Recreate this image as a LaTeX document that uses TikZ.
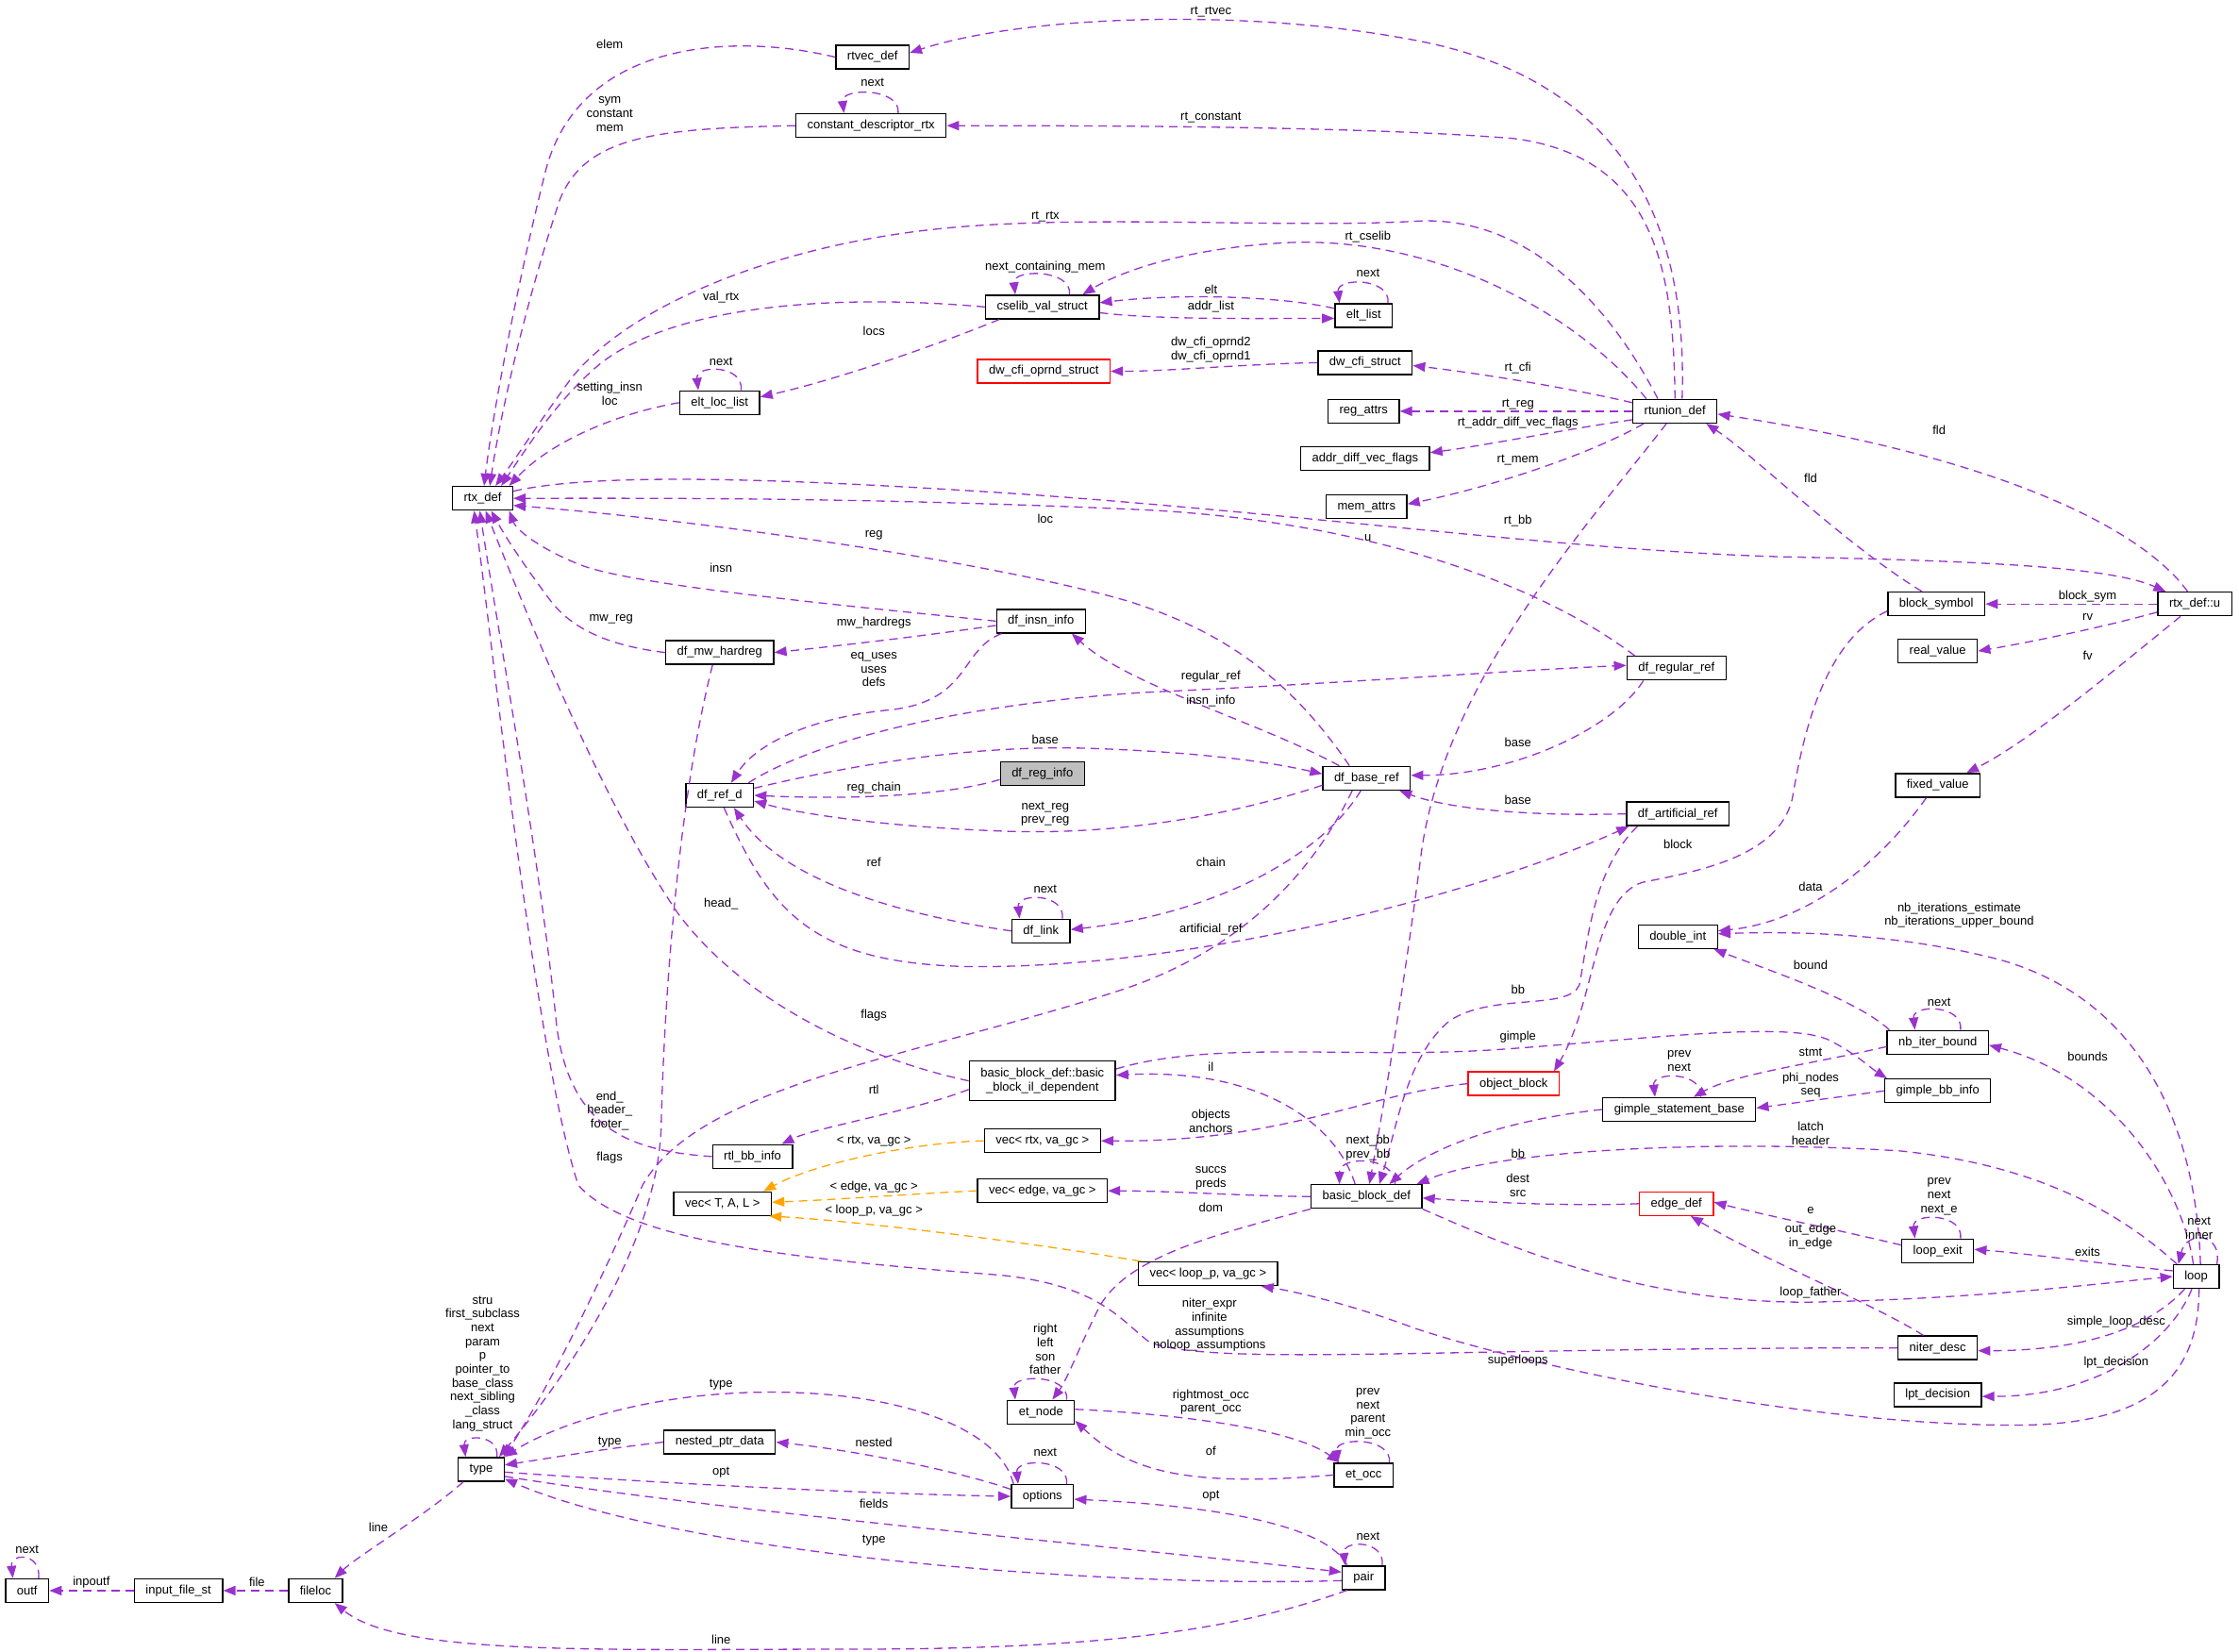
\documentclass[tikz,border=0pt]{standalone}
\usepackage{fontspec}
\setmainfont{Liberation Sans}
\usetikzlibrary{arrows.meta,calc}

\definecolor{usecol}{HTML}{9A32CD}
\definecolor{tplcol}{HTML}{FFA500}
\definecolor{rootgray}{HTML}{BFBFBF}

\tikzset{
  cls/.style={draw=black, fill=white, line width=1.4pt, rectangle, inner xsep=12pt, inner ysep=2pt,
    minimum height=25pt, font=\fontsize{13}{14.7}\selectfont, align=center},
  redcls/.style={cls, draw=red},
  uses/.style={draw=usecol, line width=1.3pt, dash pattern=on 9pt off 6pt, -{Triangle[length=13pt,width=10pt]}},
  tmpl/.style={uses, draw=tplcol},
  lbl/.style={font=\fontsize{13}{14.7}\selectfont, align=center, inner sep=0pt},
}

\begin{document}
\begin{tikzpicture}[x=1.5134pt, y=-1.5134pt]
    \fill[white] (0,0) rectangle (1568,1157);
    \useasboundingbox (0,0) rectangle (1568,1157);

    % Classes
    \node[cls] (rtvec) at (611,40) {rtvec\_def};
    \node[cls] (cdrtx) at (610,88) {constant\_descriptor\_rtx};
    \node[cls] (cselib) at (730,215) {cselib\_val\_struct};
    \node[cls] (eltlist) at (955,221) {elt\_list};
    \node[redcls] (dwopnd) at (731,260) {dw\_cfi\_oprnd\_struct};
    \node[cls] (dwcfi) at (956,254) {dw\_cfi\_struct};
    \node[cls] (regattrs) at (955,288) {reg\_attrs};
    \node[cls] (rtunion) at (1173,288) {rtunion\_def};
    \node[cls] (addrdiff) at (956,321) {addr\_diff\_vec\_flags};
    \node[cls] (memattrs) at (957,355) {mem\_attrs};
    \node[cls] (eltloc) at (504,282) {elt\_loc\_list};
    \node[cls] (rtx) at (338,349) {rtx\_def};
    \node[cls] (insninfo) at (729,435) {df\_insn\_info};
    \node[cls] (mwhard) at (504,457) {df\_mw\_hardreg};
    \node[cls] (regref) at (1174,468) {df\_regular\_ref};
    \node[cls] (blocksym) at (1356,423) {block\_symbol};
    \node[cls] (rtxu) at (1537,423) {rtx\_def::u};
    \node[cls] (realval) at (1357,456) {real\_value};
    \node[cls] (fixedval) at (1357,550) {fixed\_value};
    \node[cls, fill=rootgray] (reginfo) at (730,542) {df\_reg\_info};
    \node[cls] (refd) at (504,557) {df\_ref\_d};
    \node[cls] (baseref) at (957,545) {df\_base\_ref};
    \node[cls] (artref) at (1175,570) {df\_artificial\_ref};
    \node[cls] (dflink) at (729,652) {df\_link};
    \node[cls] (dblint) at (1175,656) {double\_int};
    \node[cls] (nbiter) at (1357,730) {nb\_iter\_bound};
    \node[cls, minimum height=42pt] (ildep) at (730,757) {basic\_block\_def::basic\\\_block\_il\_dependent};
    \node[redcls] (objblock) at (1060,759) {object\_block};
    \node[cls] (gbbinfo) at (1357,764) {gimple\_bb\_info};
    \node[cls] (gstmt) at (1176,777) {gimple\_statement\_base};
    \node[cls] (rtlbb) at (527,810) {rtl\_bb\_info};
    \node[cls] (vecrtx) at (730,799) {vec< rtx, va\_gc >};
    \node[cls] (vecT) at (506,843) {vec< T, A, L >};
    \node[cls] (vecedge) at (730,834) {vec< edge, va\_gc >};
    \node[cls] (bbdef) at (957,838) {basic\_block\_def};
    \node[redcls] (edgedef) at (1174,843) {edge\_def};
    \node[cls] (loopexit) at (1357,876) {loop\_exit};
    \node[cls] (loop) at (1538,894) {loop};
    \node[cls] (vecloop) at (846,892) {vec< loop\_p, va\_gc >};
    \node[cls] (niter) at (1357,944) {niter\_desc};
    \node[cls] (lpt) at (1357,977) {lpt\_decision};
    \node[cls] (etnode) at (729,989) {et\_node};
    \node[cls] (etocc) at (955,1033) {et\_occ};
    \node[cls] (type) at (337,1029) {type};
    \node[cls] (nested) at (504,1010) {nested\_ptr\_data};
    \node[cls] (options) at (730,1048) {options};
    \node[cls] (pair) at (955,1105) {pair};
    \node[cls] (outf) at (19,1114) {outf};
    \node[cls] (inputfile) at (125,1114) {input\_file\_st};
    \node[cls] (fileloc) at (221,1114) {fileloc};

    % Into rtx_def
    \draw[uses] (rtvec.west) .. controls (510,22) and (405,30) .. (382,120) .. controls (362,200) and (345,290) .. ($(rtx.north)+(1,0)$);
    \draw[uses] (cdrtx.west) .. controls (460,90) and (410,95) .. (392,140) .. controls (372,200) and (352,280) .. ($(rtx.north)+(5,0)$);
    \draw[uses] ($(rtunion.north)+(-12,0)$) .. controls (1120,200) and (1060,150) .. (990,155) .. controls (900,160) and (760,150) .. (660,160) .. controls (540,172) and (440,215) .. (400,265) .. controls (378,295) and (362,320) .. ($(rtx.north)+(9,0)$);
    \draw[uses] (cselib.west) .. controls (580,205) and (470,215) .. (420,255) .. controls (390,280) and (368,315) .. ($(rtx.north)+(13,0)$);
    \draw[uses] (eltloc.west) .. controls (430,290) and (385,310) .. ($(rtx.north east)+(-3,0)$);
    \draw[uses] ($(regref.north west)+(6,0)$) .. controls (1080,410) and (960,365) .. (800,357) .. controls (600,348) and (450,349) .. (rtx.east);
    \draw[uses] ($(baseref.north)+(-12,0)$) .. controls (900,470) and (850,440) .. (790,421) .. controls (700,395) and (500,365) .. ($(rtx.east)+(0,5)$);
    \draw[uses] (insninfo.west) .. controls (600,425) and (440,410) .. (405,395) .. controls (380,385) and (362,372) .. ($(rtx.south east)+(-3,0)$);
    \draw[uses] (mwhard.west) .. controls (425,452) and (400,440) .. (385,420) .. controls (370,400) and (355,378) .. ($(rtx.south)+(6,0)$);
    \draw[uses] (ildep.west) .. controls (600,740) and (520,700) .. (475,640) .. controls (420,560) and (365,420) .. ($(rtx.south)+(2,0)$);
    \draw[uses] (rtlbb.west) .. controls (440,806) and (400,790) .. (390,720) .. controls (378,600) and (350,450) .. ($(rtx.south)+(-2,0)$);
    \draw[uses] (niter.west) .. controls (1000,944) and (850,957) .. (805,940) .. controls (785,925) and (770,900) .. (700,893) .. controls (560,882) and (440,870) .. (405,830) .. controls (375,740) and (345,450) .. ($(rtx.south)+(-6,0)$);
    \draw[uses] ($(rtx.east)+(0,-5)$) .. controls (420,330) and (560,336) .. (700,345) .. controls (900,358) and (1100,386) .. (1250,390) .. controls (1400,393) and (1480,398) .. ($(rtxu.north west)+(6,0)$);

    % rtunion_def
    \draw[uses] ($(rtunion.north)+(5,0)$) .. controls (1182,160) and (1140,60) .. (1000,30) .. controls (880,5) and (720,10) .. ($(rtvec.east)+(0,-3)$);
    \draw[uses] (rtunion.north) .. controls (1172,190) and (1160,110) .. (1060,97) .. controls (950,88) and (750,88) .. (cdrtx.east);
    \draw[uses] ($(rtunion.north)+(-20,0)$) .. controls (1100,215) and (1000,165) .. (900,170) .. controls (830,174) and (785,190) .. ($(cselib.north east)+(-12,0)$);
    \draw[uses] ($(rtunion.west)+(0,-6)$) .. controls (1100,272) and (1040,262) .. ($(dwcfi.east)+(0,2)$);
    \draw[uses] (rtunion.west) -- (regattrs.east);
    \draw[uses] ($(rtunion.west)+(0,6)$) .. controls (1100,300) and (1040,312) .. ($(addrdiff.east)+(0,-4)$);
    \draw[uses] ($(rtunion.south west)+(8,0)$) .. controls (1110,320) and (1040,342) .. ($(memattrs.east)+(0,-2)$);
    \draw[uses] ($(rtunion.south)+(-6,0)$) .. controls (1110,370) and (1010,480) .. (995,600) .. controls (982,700) and (968,780) .. ($(bbdef.north)+(2,0)$);
    \draw[uses] ($(rtxu.north)+(-5,0)$) .. controls (1500,370) and (1400,320) .. ($(rtunion.east)+(0,2)$);
    \draw[uses] ($(blocksym.north)+(-10,0)$) .. controls (1290,380) and (1230,320) .. ($(rtunion.south east)+(-8,0)$);

    % cselib and lists
    \draw[uses] ($(eltlist.west)+(0,-5)$) .. controls (900,208) and (830,205) .. ($(cselib.east)+(0,-3)$);
    \draw[uses] ($(cselib.east)+(0,4)$) .. controls (810,224) and (880,223) .. ($(eltlist.west)+(0,2)$);
    \draw[uses] ($(cselib.south west)+(10,0)$) .. controls (660,240) and (590,265) .. ($(eltloc.east)+(0,-4)$);
    \draw[uses] (dwcfi.west) .. controls (870,255) and (820,260) .. (dwopnd.east);

    % Self loops
    \draw[uses] ($(cdrtx.north)+(19,0)$) .. controls ($(cdrtx.north)+(21,-18)$) and ($(cdrtx.north)+(-21,-18)$) .. ($(cdrtx.north)+(-19,0)$);
    \draw[uses] ($(cselib.north)+(19,0)$) .. controls ($(cselib.north)+(21,-18)$) and ($(cselib.north)+(-21,-18)$) .. ($(cselib.north)+(-19,0)$);
    \draw[uses] ($(eltlist.north)+(17,0)$) .. controls ($(eltlist.north)+(19,-18)$) and ($(eltlist.north)+(-19,-18)$) .. ($(eltlist.north)+(-17,0)$);
    \draw[uses] ($(eltloc.north)+(15,0)$) .. controls ($(eltloc.north)+(17,-18)$) and ($(eltloc.north)+(-17,-18)$) .. ($(eltloc.north)+(-15,0)$);
    \draw[uses] ($(dflink.north)+(15,0)$) .. controls ($(dflink.north)+(17,-18)$) and ($(dflink.north)+(-17,-18)$) .. ($(dflink.north)+(-15,0)$);
    \draw[uses] ($(nbiter.north)+(16,0)$) .. controls ($(nbiter.north)+(18,-18)$) and ($(nbiter.north)+(-18,-18)$) .. ($(nbiter.north)+(-16,0)$);
    \draw[uses] ($(gstmt.north)+(15,0)$) .. controls ($(gstmt.north)+(17,-18)$) and ($(gstmt.north)+(-19,-18)$) .. ($(gstmt.north)+(-17,0)$);
    \draw[uses] ($(loopexit.north)+(16,0)$) .. controls ($(loopexit.north)+(18,-18)$) and ($(loopexit.north)+(-18,-18)$) .. ($(loopexit.north)+(-16,0)$);
    \draw[uses] ($(etnode.north)+(18,0)$) .. controls ($(etnode.north)+(20,-18)$) and ($(etnode.north)+(-20,-18)$) .. ($(etnode.north)+(-18,0)$);
    \draw[uses] ($(etocc.north)+(18,0)$) .. controls ($(etocc.north)+(20,-18)$) and ($(etocc.north)+(-20,-18)$) .. ($(etocc.north)+(-18,0)$);
    \draw[uses] ($(options.north)+(17,0)$) .. controls ($(options.north)+(19,-18)$) and ($(options.north)+(-19,-18)$) .. ($(options.north)+(-17,0)$);
    \draw[uses] ($(pair.north)+(13,0)$) .. controls ($(pair.north)+(15,-18)$) and ($(pair.north)+(-15,-18)$) .. ($(pair.north)+(-13,0)$);
    \draw[uses] ($(type.north)+(11,0)$) .. controls ($(type.north)+(13,-16)$) and ($(type.north)+(-13,-16)$) .. ($(type.north)+(-11,0)$);
    \draw[uses] ($(outf.north)+(8,0)$) .. controls ($(outf.north)+(10,-18)$) and ($(outf.north)+(-12,-18)$) .. ($(outf.north)+(-10,0)$);
    \draw[uses] ($(bbdef.north)+(20,0)$) .. controls ($(bbdef.north)+(20,-20)$) and ($(bbdef.north)+(-19,-20)$) .. ($(bbdef.north)+(-19,0)$);
    \draw[uses] ($(loop.north east)+(-2,0)$) .. controls ($(loop.north east)+(2,-22)$) and ($(loop.north west)+(10,-24)$) .. ($(loop.north west)+(4,0)$);

    % df structures
    \draw[uses] ($(insninfo.west)+(0,3)$) .. controls (650,445) and (590,452) .. (mwhard.east);
    \draw[uses] ($(insninfo.south west)+(4,0)$) .. controls (672,455) and (680,490) .. (625,497) .. controls (570,502) and (530,520) .. ($(refd.north)+(8,0)$);
    \draw[uses] ($(refd.north east)+(-4,0)$) .. controls (560,525) and (650,495) .. (800,485) .. controls (950,478) and (1050,470) .. ($(regref.west)+(0,-2)$);
    \draw[uses] ($(baseref.north west)+(12,0)$) .. controls (880,505) and (790,480) .. ($(insninfo.south east)+(-10,0)$);
    \draw[uses] ($(refd.east)+(0,-5)$) .. controls (600,535) and (680,522) .. (760,524) .. controls (850,527) and (895,535) .. ($(baseref.west)+(0,-3)$);
    \draw[uses] ($(regref.south west)+(12,0)$) .. controls (1130,510) and (1060,543) .. ($(baseref.east)+(0,-2)$);
    \draw[uses] (artref.west) .. controls (1060,572) and (1010,565) .. ($(baseref.south east)+(-8,0)$);
    \draw[uses] ($(reginfo.west)+(0,4)$) .. controls (660,558) and (590,560) .. (refd.east);
    \draw[uses] ($(baseref.west)+(0,5)$) .. controls (850,575) and (770,585) .. (700,582) .. controls (620,579) and (560,570) .. ($(refd.east)+(0,4)$);
    \draw[uses] (dflink.west) .. controls (640,642) and (550,620) .. ($(refd.south)+(10,0)$);
    \draw[uses] ($(baseref.south)+(-4,0)$) .. controls (925,600) and (850,640) .. ($(dflink.east)+(0,-1)$);
    \draw[uses] ($(refd.south)+(3,0)$) .. controls (540,640) and (570,675) .. (680,677) .. controls (850,678) and (1050,620) .. ($(artref.south west)+(2,0)$);
    \draw[uses] ($(mwhard.south)+(-5,0)$) .. controls (475,560) and (465,700) .. (463,790) .. controls (460,870) and (400,960) .. ($(type.north east)+(-4,0)$);
    \draw[uses] ($(baseref.south)+(-10,0)$) .. controls (915,620) and (860,670) .. (780,695) .. controls (640,740) and (490,760) .. (450,830) .. controls (420,900) and (380,980) .. ($(type.north east)+(-1,0)$);

    % Basic blocks
    \draw[uses] ($(ildep.west)+(0,6)$) .. controls (640,778) and (570,790) .. ($(rtlbb.north east)+(-8,0)$);
    \draw[uses] ($(ildep.north east)+(0,6)$) .. controls (850,728) and (950,742) .. (1050,735) .. controls (1150,728) and (1250,715) .. (1280,728) .. controls (1300,738) and (1310,748) .. ($(gbbinfo.north west)+(2,0)$);
    \draw[uses] ($(bbdef.north)+(-8,0)$) .. controls (935,785) and (880,748) .. ($(ildep.east)+(0,-4)$);
    \draw[uses] ($(artref.south west)+(8,0)$) .. controls (1115,610) and (1112,660) .. (1106,690) .. controls (1098,708) and (1045,695) .. (1015,715) .. controls (985,740) and (978,790) .. ($(bbdef.north)+(9,0)$);
    \draw[uses] ($(blocksym.west)+(0,5)$) .. controls (1275,450) and (1262,520) .. (1255,560) .. controls (1245,600) and (1190,610) .. (1150,618) .. controls (1115,630) and (1118,700) .. ($(objblock.north east)+(-4,0)$);
    \draw[uses] (objblock.west) .. controls (960,765) and (900,800) .. (vecrtx.east);
    \draw[tmpl] (vecrtx.west) .. controls (640,800) and (570,815) .. ($(vecT.north east)+(-6,0)$);
    \draw[tmpl] (vecedge.west) .. controls (640,836) and (590,840) .. ($(vecT.east)+(0,-1)$);
    \draw[tmpl] ($(vecloop.north west)+(2,0)$) .. controls (720,870) and (600,855) .. ($(vecT.south east)+(-2,0)$);
    \draw[uses] (bbdef.west) .. controls (880,838) and (820,834) .. (vecedge.east);
    \draw[uses] (bbdef.south west) .. controls (850,865) and (790,880) .. (770,915) .. controls (755,945) and (748,965) .. ($(etnode.north)+(8,0)$);
    \draw[uses] (gstmt.west) .. controls (1050,785) and (1000,805) .. ($(bbdef.north)+(16,0)$);
    \draw[uses] (edgedef.west) .. controls (1100,845) and (1040,842) .. ($(bbdef.east)+(0,1)$);
    \draw[uses] ($(loop.north west)+(3,0)$) .. controls (1480,845) and (1420,815) .. (1330,806) .. controls (1200,798) and (1050,805) .. ($(bbdef.north east)+(-4,0)$);
    \draw[uses] (bbdef.south east) .. controls (1060,875) and (1150,912) .. (1265,912) .. controls (1380,910) and (1460,900) .. (loop.west);

    % Loops
    \draw[uses] ($(loopexit.west)+(0,-4)$) .. controls (1290,862) and (1240,852) .. ($(edgedef.east)+(0,-1)$);
    \draw[uses] ($(loop.west)+(0,-4)$) .. controls (1480,886) and (1420,878) .. ($(loopexit.east)+(0,-1)$);
    \draw[uses] ($(niter.north)+(-10,0)$) .. controls (1310,912) and (1240,885) .. ($(edgedef.south)+(10,0)$);
    \draw[uses] ($(loop.south)+(-8,0)$) .. controls (1505,930) and (1460,946) .. ($(niter.east)+(0,2)$);
    \draw[uses] ($(loop.south)+(-3,0)$) .. controls (1520,940) and (1470,978) .. ($(lpt.east)+(0,1)$);
    \draw[uses] ($(loop.south)+(2,0)$) .. controls (1540,960) and (1510,996) .. (1420,998) .. controls (1280,1000) and (1080,960) .. (990,930) .. controls (950,915) and (910,905) .. ($(vecloop.south east)+(-12,0)$);
    \draw[uses] ($(loop.north)+(-2,0)$) .. controls (1528,830) and (1480,755) .. ($(nbiter.east)+(0,2)$);
    \draw[uses] ($(loop.north)+(3,0)$) .. controls (1538,790) and (1500,700) .. (1400,672) .. controls (1330,654) and (1260,652) .. ($(dblint.east)+(0,-2)$);
    \draw[uses] ($(nbiter.north west)+(2,0)$) .. controls (1300,700) and (1240,680) .. ($(dblint.south east)+(-3,0)$);
    \draw[uses] ($(nbiter.west)+(0,3)$) .. controls (1270,745) and (1215,752) .. ($(gstmt.north)+(10,0)$);
    \draw[uses] (gbbinfo.west) .. controls (1290,768) and (1260,772) .. ($(gstmt.east)+(0,-1)$);
    \draw[uses] ($(fixedval.south)+(-8,0)$) .. controls (1320,600) and (1270,645) .. ($(dblint.east)+(0,-4)$);
    \draw[uses] (rtxu.west) -- (blocksym.east);
    \draw[uses] ($(rtxu.south west)+(0,-3)$) .. controls (1470,440) and (1420,450) .. (realval.east);
    \draw[uses] ($(rtxu.south)+(-10,0)$) .. controls (1480,470) and (1420,520) .. ($(fixedval.north east)+(-10,0)$);

    % Types
    \draw[uses] ($(options.north west)+(2,0)$) .. controls (700,1000) and (630,975) .. (540,975) .. controls (450,975) and (385,1000) .. (type.north east);
    \draw[uses] (nested.west) .. controls (420,1015) and (380,1022) .. ($(type.east)+(0,-3)$);
    \draw[uses] ($(options.west)+(0,-5)$) .. controls (670,1030) and (600,1016) .. (nested.east);
    \draw[uses] ($(type.east)+(0,2)$) .. controls (450,1038) and (600,1046) .. (options.west);
    \draw[uses] ($(type.east)+(0,5)$) .. controls (500,1058) and (800,1085) .. ($(pair.west)+(0,-4)$);
    \draw[uses] ($(pair.west)+(0,2)$) .. controls (780,1112) and (480,1090) .. ($(type.south east)+(0,-2)$);
    \draw[uses] ($(pair.north west)+(4,0)$) .. controls (930,1070) and (860,1055) .. ($(options.east)+(0,2)$);
    \draw[uses] ($(pair.south west)+(4,0)$) .. controls (870,1140) and (780,1155) .. (600,1155) .. controls (420,1155) and (280,1160) .. ($(fileloc.south east)+(-6,0)$);
    \draw[uses] ($(type.south west)+(4,0)$) .. controls (300,1060) and (250,1090) .. ($(fileloc.north east)+(-6,0)$);
    \draw[uses] (fileloc.west) -- (inputfile.east);
    \draw[uses] (inputfile.west) -- (outf.east);
    \draw[uses] ($(etnode.east)+(0,-2)$) .. controls (820,990) and (905,1000) .. ($(etocc.north west)+(4,0)$);
    \draw[uses] (etocc.west) .. controls (830,1042) and (790,1030) .. ($(etnode.east)+(0,6)$);

    % Labels
    \node[lbl] (l-elem) at (427,31) {elem};
    \node[lbl] (l-symc) at (427,80) {sym\\constant\\mem};
    \node[lbl] (l-cdnext) at (611,58) {next};
    \node[lbl] (l-rtvec) at (848,8) {rt\_rtvec};
    \node[lbl] (l-rtconst) at (848,82) {rt\_constant};
    \node[lbl] (l-rtrtx) at (732,152) {rt\_rtx};
    \node[lbl] (l-rtcselib) at (958,166) {rt\_cselib};
    \node[lbl] (l-ncm) at (732,187) {next\_containing\_mem};
    \node[lbl] (l-valrtx) at (505,208) {val\_rtx};
    \node[lbl] (l-eltnext) at (958,191) {next};
    \node[lbl] (l-elt) at (848,203) {elt};
    \node[lbl] (l-addr) at (848,215) {addr\_list};
    \node[lbl] (l-locs) at (612,232) {locs};
    \node[lbl] (l-locnext) at (505,253) {next};
    \node[lbl] (l-setins) at (427,276) {setting\_insn\\loc};
    \node[lbl] (l-oprnd) at (848,245) {dw\_cfi\_oprnd2\\dw\_cfi\_oprnd1};
    \node[lbl] (l-rtcfi) at (1063,258) {rt\_cfi};
    \node[lbl] (l-rtreg) at (1063,283) {rt\_reg};
    \node[lbl] (l-rtaddr) at (1063,296) {rt\_addr\_diff\_vec\_flags};
    \node[lbl] (l-rtmem) at (1063,322) {rt\_mem};
    \node[lbl] (l-fld1) at (1268,335) {fld};
    \node[lbl] (l-fld2) at (1358,301) {fld};
    \node[lbl] (l-rtbb) at (1063,365) {rt\_bb};
    \node[lbl] (l-loc) at (732,363) {loc};
    \node[lbl] (l-u) at (958,377) {u};
    \node[lbl] (l-reg) at (612,375) {reg};
    \node[lbl] (l-insn) at (505,398) {insn};
    \node[lbl] (l-mwhr) at (612,436) {mw\_hardregs};
    \node[lbl] (l-mwreg) at (428,434) {mw\_reg};
    \node[lbl] (l-uses) at (612,469) {eq\_uses\\uses\\defs};
    \node[lbl] (l-bsym) at (1462,418) {block\_sym};
    \node[lbl] (l-rv) at (1462,432) {rv};
    \node[lbl] (l-fv) at (1462,459) {fv};
    \node[lbl] (l-regref) at (848,474) {regular\_ref};
    \node[lbl] (l-insninfo) at (848,491) {insn\_info};
    \node[lbl] (l-base1) at (732,518) {base};
    \node[lbl] (l-base2) at (1063,520) {base};
    \node[lbl] (l-regchain) at (612,552) {reg\_chain};
    \node[lbl] (l-nreg) at (732,570) {next\_reg\\prev\_reg};
    \node[lbl] (l-base3) at (1063,560) {base};
    \node[lbl] (l-block) at (1175,591) {block};
    \node[lbl] (l-ref) at (612,604) {ref};
    \node[lbl] (l-linknext) at (732,623) {next};
    \node[lbl] (l-chain) at (848,604) {chain};
    \node[lbl] (l-data) at (1268,621) {data};
    \node[lbl] (l-head) at (505,633) {head\_};
    \node[lbl] (l-nbit) at (1372,641) {nb\_iterations\_estimate\\nb\_iterations\_upper\_bound};
    \node[lbl] (l-artref) at (848,651) {artificial\_ref};
    \node[lbl] (l-bound) at (1268,676) {bound};
    \node[lbl] (l-bb1) at (1063,693) {bb};
    \node[lbl] (l-nbnext) at (1358,702) {next};
    \node[lbl] (l-flags1) at (612,711) {flags};
    \node[lbl] (l-gimple) at (1063,726) {gimple};
    \node[lbl] (l-stmt) at (1268,737) {stmt};
    \node[lbl] (l-bounds) at (1462,740) {bounds};
    \node[lbl] (l-il) at (848,747) {il};
    \node[lbl] (l-gsnext) at (1176,743) {prev\\next};
    \node[lbl] (l-phi) at (1268,760) {phi\_nodes\\seq};
    \node[lbl] (l-rtl) at (612,763) {rtl};
    \node[lbl] (l-endh) at (427,778) {end\_\\header\_\\footer\_};
    \node[lbl] (l-objs) at (848,785) {objects\\anchors};
    \node[lbl] (l-bb2) at (1063,808) {bb};
    \node[lbl] (l-latch) at (1268,794) {latch\\header};
    \node[lbl] (l-vrtx) at (612,799) {< rtx, va\_gc >};
    \node[lbl] (l-nbb) at (958,804) {next\_bb\\prev\_bb};
    \node[lbl] (l-flags2) at (427,811) {flags};
    \node[lbl] (l-succs) at (848,825) {succs\\preds};
    \node[lbl] (l-dest) at (1063,830) {dest\\src};
    \node[lbl] (l-exnext) at (1358,838) {prev\\next\\next\_e};
    \node[lbl] (l-vedge) at (612,831) {< edge, va\_gc >};
    \node[lbl] (l-e) at (1268,848) {e};
    \node[lbl] (l-dom) at (848,846) {dom};
    \node[lbl] (l-vloop) at (612,848) {< loop\_p, va\_gc >};
    \node[lbl] (l-inner) at (1540,860) {next\\inner};
    \node[lbl] (l-outedge) at (1268,866) {out\_edge\\in\_edge};
    \node[lbl] (l-exits) at (1462,877) {exits};
    \node[lbl] (l-lfather) at (1268,905) {loop\_father};
    \node[lbl] (l-niter) at (847,928) {niter\_expr\\infinite\\assumptions\\noloop\_assumptions};
    \node[lbl] (l-sld) at (1482,926) {simple\_loop\_desc};
    \node[lbl] (l-superl) at (1063,953) {superloops};
    \node[lbl] (l-lpt) at (1482,954) {lpt\_decision};
    \node[lbl] (l-etn) at (732,945) {right\\left\\son\\father};
    \node[lbl] (l-rocc) at (848,982) {rightmost\_occ\\parent\_occ};
    \node[lbl] (l-eto) at (958,990) {prev\\next\\parent\\min\_occ};
    \node[lbl] (l-typeself) at (338,955) {stru\\first\_subclass\\next\\param\\p\\pointer\_to\\base\_class\\next\_sibling\\\_class\\lang\_struct};
    \node[lbl] (l-type1) at (505,970) {type};
    \node[lbl] (l-type2) at (427,1010) {type};
    \node[lbl] (l-nested) at (612,1010) {nested};
    \node[lbl] (l-optnext) at (732,1017) {next};
    \node[lbl] (l-of) at (848,1016) {of};
    \node[lbl] (l-opt1) at (505,1031) {opt};
    \node[lbl] (l-opt2) at (848,1048) {opt};
    \node[lbl] (l-fields) at (612,1053) {fields};
    \node[lbl] (l-pairnext) at (958,1076) {next};
    \node[lbl] (l-type3) at (612,1079) {type};
    \node[lbl] (l-line1) at (265,1070) {line};
    \node[lbl] (l-outnext) at (19,1085) {next};
    \node[lbl] (l-inpoutf) at (64,1108) {inpoutf};
    \node[lbl] (l-file) at (180,1108) {file};
    \node[lbl] (l-line2) at (505,1148) {line};
\end{tikzpicture}
\end{document}
